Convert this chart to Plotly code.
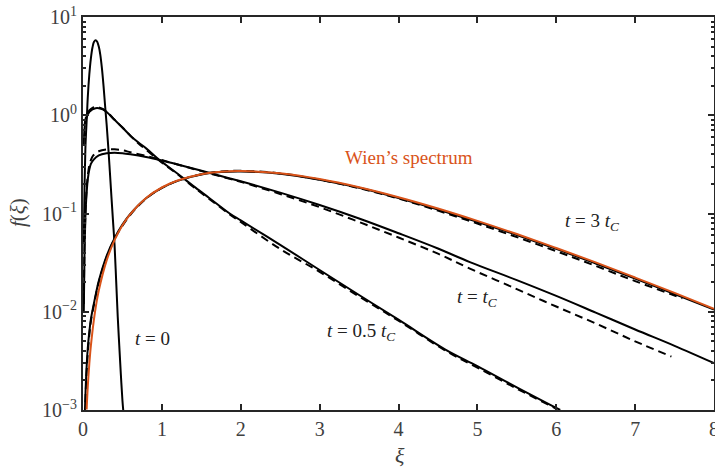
import plotly.graph_objects as go

# ---- data ----
xi_t0 = [0.01, 0.02, 0.03, 0.04, 0.05, 0.06, 0.08, 0.10, 0.12, 0.14, 0.16, 0.18, 0.20, 0.22, 0.24, 0.26,
         0.28, 0.30, 0.32, 0.34, 0.36, 0.38, 0.40, 0.42, 0.44, 0.46, 0.48, 0.50, 0.51]
f_t0 = [0.05, 0.2, 0.45, 0.7, 1.0, 1.5, 2.6, 3.8, 4.9, 5.6, 5.8, 5.6, 5.0, 4.1, 3.0, 2.0,
        1.25, 0.8, 0.48, 0.27, 0.15, 0.085, 0.048, 0.021, 0.009, 0.0045, 0.0023, 0.00125, 0.001]

xi_t05 = [0.01, 0.02, 0.04, 0.08, 0.12, 0.16, 0.2, 0.25, 0.3, 0.4, 0.5, 0.6, 0.7, 0.8, 0.97, 1.2, 1.4, 1.6,
          1.86, 2.0, 2.5, 3.0, 3.5, 4.0, 4.6, 5.0, 5.5, 6.05]
f_t05 = [0.5, 0.75, 0.92, 1.08, 1.15, 1.18, 1.18, 1.15, 1.08, 0.9, 0.75, 0.62, 0.53, 0.46, 0.35, 0.254, 0.19, 0.144,
         0.1, 0.085, 0.048, 0.0266, 0.0148, 0.0083, 0.0041, 0.0028, 0.0017, 0.001]
xi_t05_d = [0.02, 0.04, 0.08, 0.12, 0.16, 0.2, 0.25, 0.3, 0.4, 0.5, 0.6, 0.7, 0.8, 0.97, 1.2, 1.4, 1.6,
            1.86, 2.0, 2.5, 3.0, 3.5, 4.0, 4.6, 5.0, 5.5, 6.0]
f_t05_d = [0.8, 0.97, 1.12, 1.19, 1.21, 1.2, 1.16, 1.09, 0.9, 0.75, 0.62, 0.52, 0.445, 0.345, 0.25, 0.186, 0.141,
           0.098, 0.082, 0.0435, 0.0255, 0.0143, 0.0081, 0.004, 0.0027, 0.00165, 0.00103]

xi_t1 = [0.01, 0.02, 0.03, 0.04, 0.06, 0.08, 0.1, 0.13, 0.2, 0.3, 0.4, 0.5, 0.6, 0.8, 0.97, 1.2, 1.48, 1.863,
         2.0, 2.5, 3.0, 3.5, 4.0, 4.5, 4.905, 5.5, 6.0, 6.5, 7.0, 7.5, 8.0]
f_t1 = [0.01, 0.045, 0.09, 0.136, 0.22, 0.28, 0.32, 0.35, 0.39, 0.41, 0.415, 0.41, 0.40, 0.375, 0.35, 0.315, 0.275, 0.227,
        0.213, 0.163, 0.122, 0.089, 0.063, 0.044, 0.032, 0.021, 0.0145, 0.0098, 0.0066, 0.0045, 0.0030]
xi_t1_d = [0.01, 0.02, 0.04, 0.06, 0.08, 0.1, 0.13, 0.2, 0.3, 0.4, 0.5, 0.6, 0.8, 0.97, 1.2, 1.48, 1.863,
           2.0, 2.5, 3.0, 3.5, 4.0, 4.5, 4.905, 5.5, 6.0, 6.5, 7.0, 7.46]
f_t1_d = [0.012, 0.05, 0.15, 0.24, 0.31, 0.35, 0.39, 0.43, 0.45, 0.45, 0.44, 0.42, 0.385, 0.355, 0.315, 0.273, 0.225,
          0.21, 0.158, 0.116, 0.082, 0.057, 0.039, 0.0275, 0.017, 0.0113, 0.0076, 0.005, 0.0035]

xi_t3 = [0.025, 0.04, 0.06, 0.08, 0.1, 0.15, 0.2, 0.3, 0.4, 0.5, 0.6, 0.8, 1.0, 1.2, 1.5, 1.75, 2.0, 2.5, 3.0,
         3.5, 4.0, 4.5, 5.0, 5.5, 6.0, 6.5, 7.0, 7.5, 8.0]
f_t3 = [0.001, 0.0022, 0.0042, 0.0062, 0.0084, 0.0135, 0.0205, 0.037, 0.056, 0.077, 0.099, 0.143, 0.182, 0.215,
        0.249, 0.264, 0.268, 0.254, 0.221, 0.183, 0.144, 0.11, 0.082, 0.0605, 0.0436, 0.031, 0.0218, 0.0151, 0.0105]
xi_t3_d = [0.03, 0.05, 0.08, 0.1, 0.15, 0.2, 0.3, 0.4, 0.5, 0.6, 0.8, 1.0, 1.2, 1.5, 1.75, 2.0, 2.5, 3.0,
           3.5, 4.0, 4.5, 5.0, 5.5, 6.0, 6.5, 7.0, 7.6]
f_t3_d = [0.0012, 0.0028, 0.0058, 0.008, 0.013, 0.02, 0.036, 0.055, 0.075, 0.097, 0.142, 0.182, 0.216, 0.251,
          0.267, 0.272, 0.256, 0.221, 0.181, 0.142, 0.107, 0.079, 0.0575, 0.0413, 0.0293, 0.0205, 0.0137]

xi_wien = [0.046, 0.06, 0.08, 0.1, 0.15, 0.2, 0.3, 0.4, 0.5, 0.6, 0.8, 1.0, 1.2, 1.5, 1.75, 2.0, 2.5, 3.0,
           3.5, 4.0, 4.5, 5.0, 5.5, 6.0, 6.5, 7.0, 7.5, 8.0]
f_wien = [0.00101, 0.0017, 0.00295, 0.00452, 0.00968, 0.0164, 0.0333, 0.0536, 0.0758, 0.0988, 0.1438, 0.1839,
          0.2169, 0.251, 0.2661, 0.2707, 0.2565, 0.224, 0.185, 0.1465, 0.1125, 0.0842, 0.0618, 0.0446, 0.0318,
          0.0223, 0.01555, 0.01073]

y_tickvals = [1e-3, 1e-2, 1e-1, 1e0, 1e1]
y_ticktext = ["10<sup>−3</sup>", "10<sup>−2</sup>", "10<sup>−1</sup>", "10<sup>0</sup>", "10<sup>1</sup>"]
x_tickvals = [0, 1, 2, 3, 4, 5, 6, 7, 8]
minor_vals = [m * 10.0 ** e for e in (-3, -2, -1, 0) for m in range(2, 10)]

FONT = "Liberation Serif"
BLACK = "#000000"
ORANGE = "#D95319"
AX = "#262626"
LBL = "#404040"

fig = go.Figure()

def add(x, y, color=BLACK, dash=None):
    fig.add_trace(go.Scatter(x=x, y=y, mode="lines", line_shape="spline",
                             line=dict(color=color, width=2, dash=dash), hoverinfo="skip", cliponaxis=True))

add(xi_t0, f_t0)
add(xi_t05_d, f_t05_d, dash="8px,5px")
add(xi_t05, f_t05)
add(xi_t1_d, f_t1_d, dash="8px,5px")
add(xi_t1, f_t1)
add(xi_t3_d, f_t3_d, dash="8px,5px")
add(xi_t3, f_t3)
add(xi_wien, f_wien, color=ORANGE)

ann_font = dict(family=FONT, size=19, color="#222222")
annotations = [
    dict(x=0.875, y=-2.27, text="<i>t</i> = 0"),
    dict(x=3.52, y=-2.21, text="<i>t</i> = 0.5 <i>t<sub>C</sub></i>"),
    dict(x=4.99, y=-1.86, text="<i>t</i> = <i>t<sub>C</sub></i>"),
    dict(x=6.45, y=-1.09, text="<i>t</i> = 3 <i>t<sub>C</sub></i>"),
]
for a in annotations:
    a.update(xref="x", yref="y", showarrow=False, font=ann_font)
annotations.append(dict(x=4.13, y=-0.43, xref="x", yref="y", showarrow=False,
                        text="Wien’s spectrum", font=dict(family=FONT, size=19, color=ORANGE)))
# axis titles (pixel positions converted to paper coordinates)
W, H = 715, 468
L, R, T, B = 83, 1, 17, 58
for px, py, txt, ang, sz in [(400, 455, "<i>ξ</i>", 0, 22), (18, 213, "<i>f</i>(<i>ξ</i>)", -90, 21)]:
    annotations.append(dict(x=(px - L) / (W - L - R), y=1 - (py - T) / (H - T - B),
                            xref="paper", yref="paper", showarrow=False, text=txt, textangle=ang,
                            xanchor="center", yanchor="middle",
                            font=dict(family=FONT, size=sz, color=LBL)))
# last x tick label, partly cut by the page edge as in the reference
annotations.append(dict(x=8, y=1 - (429 - T) / (H - T - B), xref="x", yref="paper", showarrow=False,
                        text="8", xanchor="center", yanchor="middle",
                        font=dict(family=FONT, size=20, color=LBL)))

fig.update_layout(
    width=W, height=H,
    margin=dict(l=L, r=R, t=T, b=B, autoexpand=False),
    paper_bgcolor="white", plot_bgcolor="white",
    showlegend=False,
    font=dict(family=FONT, size=19, color=AX),
    annotations=annotations,
    xaxis=dict(range=[0, 8], tickmode="array", tickvals=x_tickvals, automargin=False,
               ticks="inside", ticklen=6, tickwidth=1.5, tickcolor=AX,
               showline=True, linecolor=AX, linewidth=2, mirror="ticks",
               showgrid=False, zeroline=False,
               tickfont=dict(family=FONT, size=20, color=LBL)),
    yaxis=dict(type="log", range=[-3, 1], tickmode="array", tickvals=y_tickvals, ticktext=y_ticktext,
               automargin=False,
               ticks="inside", ticklen=6, tickwidth=1.5, tickcolor=AX,
               minor=dict(tickmode="array", tickvals=minor_vals, ticks="inside", ticklen=3, tickcolor=AX, showgrid=False),
               showline=True, linecolor=AX, linewidth=2, mirror="ticks",
               showgrid=False, zeroline=False,
               tickfont=dict(family=FONT, size=20, color=LBL)),
)

fig.write_html("out.html", config={"displayModeBar": False},
               post_script="document.body.style.margin='0';document.body.style.overflow='hidden';")
